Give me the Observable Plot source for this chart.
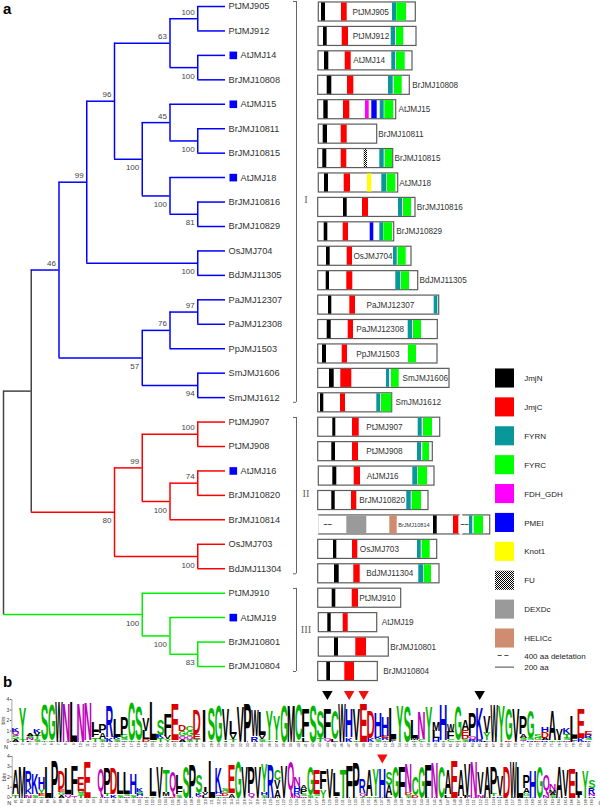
<!DOCTYPE html>
<html><head><meta charset="utf-8">
<script src="https://cdn.jsdelivr.net/npm/d3@7"></script>
<script src="https://cdn.jsdelivr.net/npm/@observablehq/plot@0.6"></script>
<style>
html,body{margin:0;padding:0;background:#fff}
#c{position:relative;width:600px;height:807px;overflow:hidden;font-family:"Liberation Sans",Arial,sans-serif}
#c svg{position:absolute;left:0}
.tag{position:absolute;font:bold 15px "Liberation Sans",Arial,sans-serif;color:#000;line-height:15px}
</style></head><body><div id="c"></div>
<script>
// ---------- phylogeny: N(level, bootstrap, top, bottom), leaves are names ----------
const N = (level, boot, a, b, color) => ({level, boot, kids: [a, b], color});
const BLUE = "#0000ff", RED = "#ff0000", GREEN = "#00ee00", DARK = "#444444";
const cladeI = N(2, 46,
  N(3, 99,
    N(4, 96,
      N(6, 63, N(7, 100, "PtJMJ905", "PtJMJ912"), N(7, 100, "AtJMJ14", "BrJMJ10808")),
      N(5, 100,
        N(6, 45, "AtJMJ15", N(7, 100, "BrJMJ10811", "BrJMJ10815")),
        N(6, 100, "AtJMJ18", N(7, 81, "BrJMJ10816", "BrJMJ10829")))),
    N(7, 100, "OsJMJ704", "BdJMJ11305")),
  N(5, 57,
    N(6, 76, N(7, 97, "PaJMJ12307", "PaJMJ12308"), "PpJMJ1503"),
    N(7, 94, "SmJMJ1606", "SmJMJ1612")), BLUE);
const cladeII = N(4, 80,
  N(5, 99,
    N(7, 100, "PtJMJ907", "PtJMJ908"),
    N(6, 100, N(7, 74, "AtJMJ16", "BrJMJ10820"), "BrJMJ10814")),
  N(7, 100, "OsJMJ703", "BdJMJ11304"), RED);
const cladeIII = N(5, 100, "PtJMJ910",
  N(6, 100, "AtJMJ19", N(7, 83, "BrJMJ10801", "BrJMJ10804")), GREEN);
const treeRoot = N(0, null, N(1, null, cladeI, cladeII, DARK), cladeIII, DARK);

const genes = ["PtJMJ905","PtJMJ912","AtJMJ14","BrJMJ10808","AtJMJ15","BrJMJ10811","BrJMJ10815","AtJMJ18","BrJMJ10816","BrJMJ10829","OsJMJ704","BdJMJ11305","PaJMJ12307","PaJMJ12308","PpJMJ1503","SmJMJ1606","SmJMJ1612","PtJMJ907","PtJMJ908","AtJMJ16","BrJMJ10820","BrJMJ10814","OsJMJ703","BdJMJ11304","PtJMJ910","AtJMJ19","BrJMJ10801","BrJMJ10804"];
const markedGenes = ["AtJMJ14","AtJMJ15","AtJMJ18","AtJMJ16","AtJMJ19"];

// ---------- protein architectures, aligned with genes ----------
const boxLeft  = [318.3,318,318,317.7,317.7,318.3,317.7,318.3,317.7,317.7,317.7,317.7,317.7,317.7,317.7,317.7,317.7,317.7,317.7,318.3,317.7,317.7,317.7,317.7,317.7,318.3,318.3,317.7];
const boxRight = [415.3,416,412,409.3,395.7,376.7,392.7,397.7,415,393.7,411,417.7,438.7,437.3,437,449,391.7,439.7,432.3,434,428,489.7,436.7,439,400.7,376.7,388.3,377.3];
const labelLeft= [352,352.3,352.7,411.7,398,377.7,394,398.7,416.3,395.7,353,419,366,355.7,355.7,402,395,365.7,365.7,366.3,358.7,397.7,359.3,365.7,358.7,381.3,389.7,382.7];
const jmjN = [[321,325],[323,326.7],[324,328.3],[326.7,331.3],[323.3,327.7],[322.7,327],[322.3,326.3],[324,328],[343,346.7],[323.7,327.3],[326,329.7],[325.7,329],[328,331.3],[326.7,330.7],[322,326],[329,333.7],[320,323.3],[332.3,335.3],[331.3,335],[332.3,336.3],[331.3,334.7],[433,436.7],[333,336.3],[334,338.7],[331.7,335.3],[327.3,330.7],[334,338],[326.3,330]];
const jmjC = [[341,346.7],[341.7,348],[344.7,350.7],[347,353.3],[343,349.3],[340.7,346.7],[340.7,346.3],[343.7,350],[362,368],[342.7,348],[346.7,352],[346.3,352.3],[349.3,355],[347.7,353],[341.7,347],[340.3,351.3],[340,345],[352,358.7],[352,358],[353.7,360],[351,356.3],[453,458.3],[352,357.3],[353.3,359.7],[351.7,358],[342.7,347.7],[355.3,366],[344.3,354]];
const fyrn = [[392,396],[390.7,395],[391.3,395],[388,392.7],[379.7,383.7],null,[379.3,383.7],[381.3,386],[398,402],[379.3,383],[393,396.7],[395.3,400.3],[433.7,437.3],[407.7,412],null,[386,389],[376.3,380],[417.7,421.7],[417,421],[412.3,417],[406.3,410.7],[469,472.3],[417,420.7],[418.3,423],null,null,null,null];
const fyrc = [[396.3,406],[396,403.3],[396,404.7],[393.7,401.7],[384.3,393.3],null,[384.7,392],[386.7,395.3],[403,411],[383.3,392],[397.7,405.7],[401,409],null,[413,421],[408,416],[391,398.7],[381,391.3],[423,432],[422.3,429],[417.7,427],[411.7,421],[473.7,483],[421.7,429.7],[423.7,431],null,null,null,null];
const extraDomains = [["AtJMJ15","FDH_GDH",365,368.7],["AtJMJ15","PMEI",371.3,376.7],["BrJMJ10829","PMEI",369.7,373.3],["AtJMJ18","Knot1",367,371.3],["BrJMJ10815","FU",363.7,367],["BrJMJ10814","DEXDc",346.3,366.3],["BrJMJ10814","HELICc",389.3,396.7]];
const brokenEdges = [["BrJMJ10814",316.5,318.4],["BrJMJ10814",459.5,462.3]];
const deletionMarks = [["BrJMJ10814",327.2],["BrJMJ10814",464]];

const domainNames  = ["JmjN","JmjC","FYRN","FYRC","FDH_GDH","PMEI","Knot1","FU","DEXDc","HELICc"];
const domainColors = ["#000000","#ff0000","#08989c","#00ff00","#ff00ff","#0000ff","#ffff00","url(#fuPattern)","#9a9a9a","#d08c70"];
const colorOf = Object.fromEntries(domainNames.map((n, i) => [n, domainColors[i]]));

const groupBrackets = [["I",-0.43,15.98,7.68],["II",16.6,23.0,19.7],["III",23.6,27.0,25.27]];

// ---------- sequence logo: letters top to bottom with bits ----------
const logoRow1 = ["K.4 Q.4 S.3 A.2","Y2.9 T.2","A.2 S.2 N.2 L.1","K.4 V.3 T.3 S.2","S3.3 G.1","G3.3 S.1","W3.8","N3.7","L3.8","N3.7","N3.6 T.1","L.9 F.6 T.4","P.9 A.6 S.2","R2.9 K.4","L1.7 K.2 S.2","P1.7 G.3 S.2 A.1","G3.6 S.1","S3.2 T.1","V1.2 L.8 D.2","L3.7 S.1","S1.5 K.3 T.3","F2.1 V.3 Y.2","E3.5 D.1","D.6 G.5 Q.3 A.2","C.5 G.5 Q.3 S.2","D2.3 E.5 T.2","I3.1","S3.1 T.1","G3.4","V3 I.1","L1.2 V.5 T.2","V3.3","P3.7","W2.5 R.5","L2.2 V.4 S.2","Y2.8 T.1","Y2.3 I.1","G3.5","M3.5","C3.3 S.1","F2.7 L.4","S3.4","S2.6 T.3","F2.8 Q.3","C2.7 L.2","W3.7","H2.7 K.4","V3 S.1","E3.7","D2.6 K.3","H2.3 K.2 S.2","H1.8 E.2 R.2 A.1","L2.9 F.2","Y3.4","S3.3","L1.7 M.2 C.1","N2.6 C.2","Y3.3","M.9 L.7 H.3","H3.3 T.1","W.7 F.7 C.2","G3.2 S.1","A1 E.6 D.3 S.2","P2.2 Q.3 R.2","K2.9 R.2","V1.6 Y.7 L.1","W3.6","Y3.4","G3 E.1","V3.2","P1.7 A.4 S.2 Q.1","G2.6 S.2 R.1","S.3 G.2 D.1","H.5 D.6 A.2 R.1","A2.8 S.1","V.7 I.3 S.1","K.6 T.4 S.2 N.1","L2.1 F.3","E2.8 K.3","E.4 R.3 S.2 K.1"];
const logoRow2 = ["A2.4 T.3","M3","R1.6 K.6 N.3","K2 S.3","H1.1 Y.5 E.2 S.1","L3","P3.7","D1.8 E.3 G.3 A.2","L2.5 Q.3","F2.9 Q.2","E1.4 G.2 S.2 T.2","E3.5","S.1","Q2.8","P2.5 T.2 K.1","D2.5 K.3","L2.2 S.3","L2.2 S.2 N.1","H2 S.3","K.4 S.2 H.2 N.1","A.05","L2.8 G.1","V3","T2.2 M.4 A.1","Q2.5 E.1","L1.2 F.6 S.3","S3","P3.3","S1.6 T.2 K.2 Q.1","I.5 V.3 L.2","L3.7","K2.4 H.2 Q.2 S.1","S.3 G.2 D.3 A.1","E2.8 A.4","G3.5","V3","P2.5 Q.4","V3","Y2.8 H.3 S.2","R3.3","C1 V.9 A.8","V3.2","Q3.5","N.9 H.5 R.4 N.2","A.4 P.5 S.2 N.1","G2.8 S.2","E2.4 S.2 Y.1","F1.8 Y.8","V2.9","L2.3 I.1","T2.8","F3.1","P3.4","R1.4 Q.3 S.1","A2.5 S.1","Y2.6 S.1","H2.9","S1.3 A1 L.2","G3","F3","N2.8 D.3 S.2","C1.8 D.2","G3","F3.3","N3.4","C3","A2.4 L.3","E3.7","A2.5 I.1","V3 F.2","N3.6","V2.1 N.3","A3","P2.6 T.2 I.1","V1.9 T.1 R.1","D3","W3.6","L3","P1.3 A.5 G.3 S.1","H2.7","G3","Q1.9 N.3","N.6 M.3 A.2 S.2","A3","V2.5 I.1","E2.9","L2.3 I.2","Y2.7","S.8 R.6 N.2 H.1"];
const row1Start = 1, row2Start = 81;
const row1Arrows = [{pos:44,c:"#000"},{pos:47,c:"#f01010"},{pos:49,c:"#f01010"},{pos:65,c:"#000"}];
const row2Arrows = [{pos:137,c:"#f01010"}];

// ---------- shared ----------
const FONT = '"Liberation Sans",Arial,sans-serif';
const txt = "#333333";
const boxStroke = "#5c5c5c";
const style = {background:"none",overflow:"visible",fontFamily:FONT};
const host = document.getElementById("c");
function place(svg, top){ svg.style.top = top + "px"; host.appendChild(svg); }
function tag(t, x, y){ const d = document.createElement("div"); d.className = "tag"; d.textContent = t; d.style.left = x + "px"; d.style.top = y + "px"; host.appendChild(d); }

// ---------- tree layout: leaves on rank, inner nodes at the middle of their children ----------
const stems = [], spines = [], tips = [], boots = [];
(function walk(node, color, parentLevel, side){
  if (typeof node === "string") {
    const y = genes.indexOf(node);
    stems.push({x1:parentLevel, x2:8, y, c:color});
    tips.push({name:node, y});
    return y;
  }
  const c = node.color || color;
  const ys = node.kids.map((k, i) => walk(k, c, node.level, i));
  const y = (ys[0] + ys[1]) / 2;
  spines.push({x:node.level, y1:ys[0], y2:ys[1], c});
  if (parentLevel != null) stems.push({x1:parentLevel, x2:node.level, y, c});
  if (node.boot != null) boots.push({x:node.level, y, t:String(node.boot), side});
  return y;
})(treeRoot, DARK, null, 0);

place(Plot.plot({
  width:600, height:690, marginTop:6, marginBottom:24, marginLeft:3, marginRight:375, style,
  x:{domain:[0,8], axis:null}, y:{domain:[0,27], reverse:true, axis:null}, color:{type:"identity"},
  marks:[
    Plot.ruleX(spines, {x:"x", y1:"y1", y2:"y2", stroke:d=>d.c, strokeWidth:1.5}),
    Plot.ruleY(stems, {y:"y", x1:"x1", x2:"x2", stroke:d=>d.c, strokeWidth:1.5}),
    Plot.text(tips.filter(d=>!markedGenes.includes(d.name)), {x:()=>8, y:"y", text:"name", textAnchor:"start", dx:3, fontSize:9.2, fill:txt}),
    Plot.text(tips.filter(d=>markedGenes.includes(d.name)), {x:()=>8, y:"y", text:"name", textAnchor:"start", dx:15, fontSize:9.2, fill:txt}),
    Plot.dot(tips.filter(d=>markedGenes.includes(d.name)), {x:()=>8, y:"y", dx:7.8, symbol:"square", r:4.3, fill:"#0000ff", stroke:"none"}),
    Plot.text(boots.filter(d=>d.side===0), {x:"x", y:"y", text:"t", textAnchor:"end", dx:-3, dy:-6.5, fontSize:8, fill:"#444"}),
    Plot.text(boots.filter(d=>d.side===1), {x:"x", y:"y", text:"t", textAnchor:"end", dx:-3, dy:8.5, fontSize:8, fill:"#444"})
  ]
}), 0);

// ---------- architectures ----------
const boxes = genes.map((g, i) => ({g, y:i, a:boxLeft[i], b:boxRight[i], lab:labelLeft[i]}));
const segs = [];
genes.forEach((g, i) => {
  [["JmjN",jmjN],["JmjC",jmjC],["FYRN",fyrn],["FYRC",fyrc]].forEach(([n, arr]) => {
    if (arr[i]) segs.push({y:i, a:arr[i][0], b:arr[i][1], n});
  });
});
extraDomains.forEach(([g, n, a, b]) => segs.push({y:genes.indexOf(g), a, b, n}));
const halfBox = 0.39;
const fuDefs = () => {
  const defs = d3.create("svg:defs");
  const p = defs.append("pattern").attr("id","fuPattern").attr("width",2).attr("height",2).attr("patternUnits","userSpaceOnUse");
  p.append("rect").attr("width",2).attr("height",2).attr("fill","#fff");
  p.append("rect").attr("width",1).attr("height",1).attr("fill","#000");
  p.append("rect").attr("x",1).attr("y",1).attr("width",1).attr("height",1).attr("fill","#000");
  return defs.node();
};
place(Plot.plot({
  width:600, height:690, marginTop:11.5, marginBottom:19, marginLeft:0, marginRight:0, style,
  x:{domain:[0,600], axis:null}, y:{domain:[0,27], reverse:true, axis:null}, color:{type:"identity"},
  marks:[
    fuDefs,
    Plot.rect(boxes, {x1:"a", x2:"b", y1:d=>d.y-halfBox, y2:d=>d.y+halfBox, fill:"#fff", stroke:boxStroke, strokeWidth:1.2}),
    Plot.rect(brokenEdges, {x1:d=>d[1], x2:d=>d[2], y1:d=>genes.indexOf(d[0])-0.42, y2:d=>genes.indexOf(d[0])+0.42, fill:"#fff"}),
    Plot.rect(segs, {x1:"a", x2:"b", y1:d=>d.y-halfBox+0.02, y2:d=>d.y+halfBox-0.02, fill:d=>colorOf[d.n]}),
    Plot.text(boxes.filter(d=>d.g!=="BrJMJ10814"), {x:"lab", y:"y", text:"g", textAnchor:"start", fontSize:8.2, fill:txt}),
    Plot.text(boxes.filter(d=>d.g==="BrJMJ10814"), {x:"lab", y:"y", text:"g", textAnchor:"start", fontSize:5.6, fill:txt}),
    Plot.text(deletionMarks, {x:d=>d[1], y:d=>genes.indexOf(d[0]), text:()=>"~~", fontSize:7, fontWeight:"bold", fill:"#222"}),
    Plot.ruleX(groupBrackets, {x:()=>296, y1:d=>d[1], y2:d=>d[2], stroke:"#666", strokeWidth:1}),
    Plot.ruleY(groupBrackets, {y:d=>d[1], x1:()=>293, x2:()=>296, stroke:"#666", strokeWidth:1}),
    Plot.ruleY(groupBrackets, {y:d=>d[2], x1:()=>293, x2:()=>296, stroke:"#666", strokeWidth:1}),
    Plot.text(groupBrackets, {x:()=>305.5, y:d=>d[3], text:d=>d[0], fontFamily:"Liberation Serif", fontSize:10.5, fill:"#666"})
  ]
}), 0);

// ---------- legend ----------
const legendRows = domainNames.map((n, i) => ({n, i}));
place(Plot.plot({
  width:600, height:690, marginTop:378, marginBottom:52, marginLeft:0, marginRight:0, style,
  x:{domain:[0,600], axis:null}, y:{domain:[0,9], reverse:true, axis:null}, color:{type:"identity"},
  marks:[
    Plot.rect(legendRows, {x1:()=>495, x2:()=>514, y1:d=>d.i-0.33, y2:d=>d.i+0.33, fill:d=>colorOf[d.n]}),
    Plot.text(legendRows, {x:()=>523.7, y:"i", text:"n", textAnchor:"start", fontSize:8, fill:"#222"}),
    Plot.text(["400 aa deletation"], {x:()=>523.7, y:()=>9.62, text:d=>d, textAnchor:"start", fontSize:8, fill:"#222"}),
    Plot.text(["200 aa"], {x:()=>523.7, y:()=>9.99, text:d=>d, textAnchor:"start", fontSize:8, fill:"#222"}),
    Plot.text(["~ ~"], {x:()=>502.5, y:()=>9.6, text:d=>d, fontSize:8, fontWeight:"bold", fill:"#222"}),
    Plot.ruleY(["200 aa"], {y:()=>9.99, x1:()=>495, x2:()=>514, stroke:"#444", strokeWidth:1})
  ]
}), 0);

// ---------- logo rows ----------
const LETTER = {G:"#00b800",S:"#00b800",T:"#00b800",Y:"#00b800",C:"#00b800",Q:"#c000c0",N:"#c000c0",K:"#0000e0",R:"#0000e0",H:"#0000e0",D:"#d80000",E:"#d80000"};
const meter = document.createElement("canvas").getContext("2d");
meter.font = 'bold 20px "Liberation Sans"';
function logoRecords(stacks, start){
  const out = [];
  stacks.forEach((s, k) => {
    const toks = s.split(" ").map(t => ({l:t[0], h:+t.slice(1)})).reverse();
    let y = 0;
    toks.forEach(t => { out.push({pos:start+k, l:t.l, y1:y, y2:y+t.h}); y += t.h; });
  });
  return out;
}
function logoPlot(stacks, start, arrows, arrowBits, o){
  const recs = logoRecords(stacks, start);
  const positions = stacks.map((_, k) => start+k);
  return Plot.plot({
    width:600, height:o.height, marginTop:o.top, marginBottom:o.bottom, marginLeft:o.left, marginRight:o.right, style,
    x:{domain:[start-0.5, start+stacks.length-0.5], axis:null}, y:{domain:[0,4], axis:null}, color:{type:"identity"},
    marks:[
      Plot.text(recs, {x:"pos", y:"y1", text:"l", fill:d=>LETTER[d.l]||"#000", fontSize:20, fontWeight:"bold", fontFamily:"Liberation Sans",
        render(index, scales, values, dims, ctx, next){
          const g = next(index, scales, values, dims, ctx);
          const cw = Math.abs(scales.x(start+1)-scales.x(start));
          d3.select(g).selectAll("text").each(function(i){
            const d = recs[i], m = meter.measureText(d.l);
            const gw = m.actualBoundingBoxLeft + m.actualBoundingBoxRight;
            const gh = m.actualBoundingBoxAscent + m.actualBoundingBoxDescent;
            const w = d.l === "I" ? cw*0.45 : cw+0.2;
            const sx = w/gw, sy = Math.max(0.001, scales.y(d.y1)-scales.y(d.y2))/gh;
            const tx = scales.x(d.pos)-w/2 + m.actualBoundingBoxLeft*sx;
            const ty = scales.y(d.y1) - m.actualBoundingBoxDescent*sy;
            d3.select(this).attr("y",null).attr("dy",null).attr("text-anchor","start")
              .attr("transform",`translate(${tx},${ty}) scale(${sx},${sy})`);
          });
          return g;
        }}),
      Plot.axisX({ticks:positions, tickFormat:d=>String(d), tickRotate:-90, tickSize:1.2, tickPadding:0.6, fontSize:3.6, anchor:"bottom", label:null, stroke:"#666", fill:"#222"}),
      Plot.axisY({ticks:[0,1,2,3,4], tickFormat:d=>String(d), tickSize:1.5, tickPadding:1, fontSize:5, anchor:"left", label:"bits", labelAnchor:"center", labelArrow:"none", labelOffset:10, stroke:"#555", fill:"#333"}),
      Plot.ruleX([start-0.5], {y1:()=>0, y2:()=>4, stroke:"#555", strokeWidth:0.5}),
      Plot.dot(arrows, {x:"pos", y:()=>arrowBits, symbol:"triangle", rotate:180, r:3.9, fill:d=>d.c, stroke:"none"}),
      Plot.text(o.ends, {x:d=>d[0], y:()=>0, text:d=>d[1], dy:5.5, fontSize:5.5, fill:"#222"})
    ]
  });
}
place(logoPlot(logoRow1, row1Start, row1Arrows, 4.52,
  {height:67, top:13, bottom:12, left:11.4, right:8.4, ends:[[-0.3,"N"]]}), 686);
place(logoPlot(logoRow2, row2Start, row2Arrows, 3.9,
  {height:57, top:6, bottom:10, left:11.7, right:5.3, ends:[[row2Start-0.95,"N"],[row2Start+89.3,"C"]]}), 750);

tag("a", 3, 1);
tag("b", 3, 674);
</script></body></html>
